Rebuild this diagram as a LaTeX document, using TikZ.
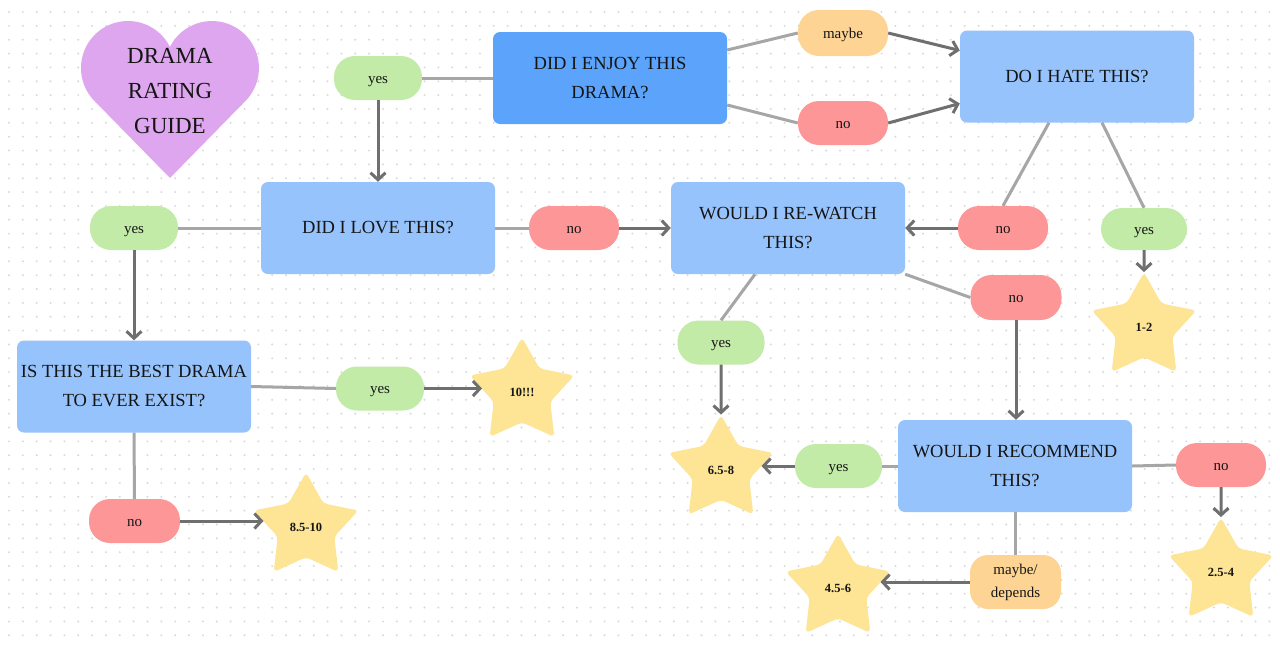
\documentclass[tikz,border=0pt]{standalone}
\usepackage{fontspec}
\setmainfont{Liberation Serif}
\usetikzlibrary{shapes.geometric,arrows.meta,calc}
\definecolor{bluedk}{HTML}{5BA3FB}
\definecolor{bluelt}{HTML}{97C3FC}
\definecolor{greenc}{HTML}{C2EBA8}
\definecolor{redc}{HTML}{FD9797}
\definecolor{orangec}{HTML}{FDD494}
\definecolor{starc}{HTML}{FDE595}
\definecolor{heartc}{HTML}{DDA6EE}
\definecolor{linec}{HTML}{A6A6A6}
\definecolor{arrc}{HTML}{6F6F6F}
\definecolor{dotc}{HTML}{D9D9D9}
\definecolor{textc}{HTML}{151515}
\begin{document}
\begin{tikzpicture}[x=1pt,y=-1pt,
  qbox/.style={rectangle, rounded corners=7pt, minimum width=234pt, minimum height=92pt,
    align=center, inner sep=0pt, text=textc, font=\fontsize{18.5}{29}\selectfont},
  pillbase/.style={rectangle, rounded corners=21pt, minimum width=88pt, minimum height=44pt,
    inner sep=0pt, text=textc, font=\fontsize{15}{23}\selectfont},
  pill/.style={pillbase, text height=11.5pt, text depth=1.5pt},
  starnode/.style={star, star points=5, star point ratio=1.85, minimum size=110pt, inner sep=0pt,
    rounded corners=4pt, fill=starc, text=textc, font=\fontsize{12.5}{15}\selectfont\bfseries},
  ln/.style={draw=linec, line width=3pt},
  arr/.style={draw=arrc, line width=3pt, -{Straight Barb[length=7pt,width=15pt]}}
]
\useasboundingbox (0,0) rectangle (1280,646);
\fill[white] (0,0) rectangle (1280,646);
\foreach \i in {0,...,92}{\foreach \j in {0,...,45}{\fill[dotc] ({9+13.85*\i},{12+13.85*\j}) circle[radius=1.1];}}

% heart
\fill[heartc] (170,178) -- (94.4,100.9) arc[start angle=135.6,end angle=333.3,radius=47]
  arc[start angle=206.7,end angle=404.4,radius=47] -- cycle;
\node[align=center, text=textc, font=\fontsize{23}{35}\selectfont] (title) at (170,91) {DRAMA\\RATING\\GUIDE};

% question boxes
\node[qbox, fill=bluedk] (enjoy) at (610,78) {DID I ENJOY THIS\\DRAMA?};
\node[qbox, fill=bluelt] (hate) at (1077,76.5) {DO I HATE THIS?};
\node[qbox, fill=bluelt] (love) at (378,228) {DID I LOVE THIS?};
\node[qbox, fill=bluelt] (rewatch) at (788,228) {WOULD I RE-WATCH\\THIS?};
\node[qbox, fill=bluelt] (best) at (134,386.5) {IS THIS THE BEST DRAMA\\TO EVER EXIST?};
\node[qbox, fill=bluelt] (recommend) at (1015,466) {WOULD I RECOMMEND\\THIS?};

% answer pills
\node[pill, fill=greenc] (yes1) at (378,78) {yes};
\node[pill, fill=orangec, minimum width=90pt, minimum height=46pt] (maybe1) at (843,33) {maybe};
\node[pill, fill=redc, minimum width=90pt] (no1) at (843,123) {no};
\node[pill, fill=greenc] (yes2) at (134,228) {yes};
\node[pill, fill=redc, minimum width=90pt] (no2) at (574,228) {no};
\node[pill, fill=redc, minimum width=90pt] (no3) at (1003,228) {no};
\node[pill, fill=greenc, minimum width=86pt, minimum height=42pt] (yes3) at (1144,229) {yes};
\node[pill, fill=redc, minimum width=91pt, minimum height=45pt] (no4) at (1016,297.5) {no};
\node[pill, fill=greenc, minimum width=87pt] (yes4) at (721,342.5) {yes};
\node[pill, fill=greenc] (yes5) at (380,388.5) {yes};
\node[pill, fill=redc, minimum width=91pt] (no5) at (134.5,521) {no};
\node[pill, fill=greenc, minimum width=87pt] (yes6) at (838.5,466) {yes};
\node[pill, fill=redc, minimum width=90pt] (no6) at (1221,465) {no};
\node[pillbase, align=center, fill=orangec, minimum width=91pt, minimum height=54pt, rounded corners=18pt] (maybe2) at (1015.5,582) {maybe/\\depends};

% result stars
\node[starnode] (s10) at (522,392.5) {10!!!};
\node[starnode] (s85) at (306,527.5) {8.5-10};
\node[starnode] (s12) at (1144,327.5) {1-2};
\node[starnode] (s65) at (721,470) {6.5-8};
\node[starnode] (s45) at (838,588.5) {4.5-6};
\node[starnode] (s25) at (1221,572.5) {2.5-4};

% connectors
\draw[ln] (yes1.east) -- (enjoy.west);
\draw[arr] (yes1.south) -- (love.north);
\draw[ln] ([yshift=28pt]enjoy.east) -- (maybe1.west);
\draw[ln] ([yshift=-27pt]enjoy.east) -- (no1.west);
\draw[arr] (maybe1.east) -- ([yshift=26pt]hate.west);
\draw[arr] (no1.east) -- ([yshift=-27pt]hate.west);
\draw[ln] (love.west) -- (yes2.east);
\draw[ln] (love.east) -- (no2.west);
\draw[arr] (no2.east) -- (rewatch.west);
\draw[ln] ([xshift=-28pt]hate.south) -- (no3.north);
\draw[ln] ([xshift=25pt]hate.south) -- (yes3.north);
\draw[arr] (no3.west) -- (rewatch.east);
\draw[arr] (yes3.south) -- (s12.north);
\draw[arr] (yes2.south) -- (best.north);
\draw[ln] (best.east) -- (yes5.west);
\draw[arr] (yes5.east) -- ([xshift=-40pt]s10.center |- yes5.east);
\draw[ln] (best.south) -- (no5.north);
\draw[arr] (no5.east) -- ([xshift=-42.5pt]s85.center |- no5.east);
\draw[ln] ([xshift=-33pt]rewatch.south) -- (yes4.north);
\draw[ln] (rewatch.south east) -- (no4.west);
\draw[arr] (no4.south) -- (no4.south |- recommend.north);
\draw[arr] (yes4.south) -- (s65.north);
\draw[ln] (recommend.west) -- (yes6.east);
\draw[arr] (yes6.west) -- ([xshift=40.5pt]s65.center |- yes6.west);
\draw[ln] (recommend.east) -- (no6.west);
\draw[arr] (no6.south) -- (s25.north);
\draw[ln] (recommend.south) -- (recommend.south |- maybe2.north);
\draw[arr] (maybe2.west) -- ([xshift=42.5pt]s45.center |- maybe2.west);
\end{tikzpicture}
\end{document}
